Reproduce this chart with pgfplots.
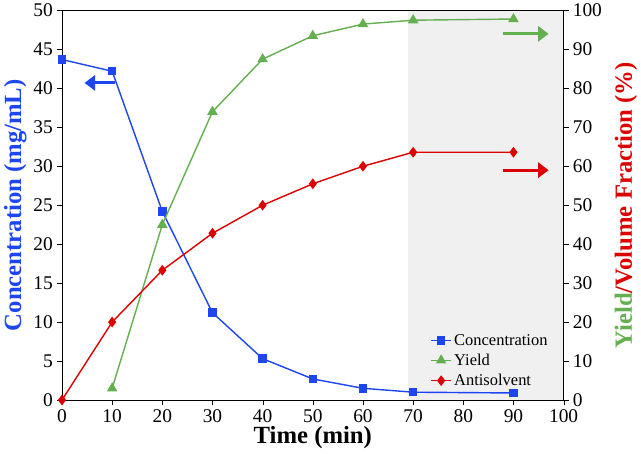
\documentclass[border=0pt]{standalone}
\usepackage{pgfplots}
\pgfplotsset{compat=1.18}
\usepackage{fontspec}
\setmainfont{Liberation Serif}
\usetikzlibrary{arrows.meta}
\definecolor{cblue}{RGB}{30,70,240}
\definecolor{cgreen}{RGB}{100,175,80}
\definecolor{cred}{RGB}{220,0,0}
\begin{document}
\begin{tikzpicture}
\pgfplotsset{every axis/.append style={scale only axis,width=425bp,height=330bp,
 /pgf/number format/assume math mode=true, tick label style={font=\fontsize{16.5}{18}\selectfont},
 label style={font=\fontsize{21}{23}\selectfont\bfseries}, tick align=outside, tick style={black}}}
\begin{axis}[xmin=0,xmax=100,ymin=0,ymax=50,xtick={0,10,...,100},ytick={0,5,...,50},
 axis y line*=left, xlabel={Time (min)}, ylabel={\textcolor{cblue}{Concentration (mg/mL)}},
 xlabel style={yshift=3pt}, ylabel style={yshift=-1pt}, xtick pos=bottom]
\fill[gray!12] (axis cs:69,0) rectangle (axis cs:100,50);
\addplot[cblue,line width=1.2pt,mark=square*,mark size=3pt] coordinates {(0,43.7)(10,42.2)(20,24.2)(30,11.2)(40,5.3)(50,2.7)(60,1.5)(70,1.0)(90,0.9)};
\draw[cblue,line width=2.5pt,-{Triangle[length=9pt,width=13pt]}] (axis cs:10.5,40.7) -- (axis cs:4.5,40.7);
\end{axis}
\begin{axis}[xmin=0,xmax=100,ymin=0,ymax=100,ytick={0,10,...,100},axis y line*=right,
 xtick=\empty, axis x line*=top,
 ylabel={\textcolor{cgreen}{Yield}\textcolor{cred}{/Volume Fraction (\%)}}, ylabel style={yshift=-4pt},
 legend style={at={(0.98,0.02)},anchor=south east,draw=none,fill=none,font=\fontsize{14}{16}\selectfont,row sep=2pt},
 legend cell align=left]
\addlegendimage{cblue,line width=1.2pt,mark=square*,mark size=3pt}
\addlegendentry{Concentration}
\addplot[cgreen,line width=1.2pt,mark=triangle*,mark size=4pt] coordinates {(10,3)(20,45)(30,74)(40,87.5)(50,93.5)(60,96.5)(70,97.5)(90,97.8)};
\addlegendentry{Yield}
\addplot[cred,line width=1.2pt,mark=diamond*,mark size=3.6pt] coordinates {(0,0)(10,20)(20,33.3)(30,42.8)(40,50)(50,55.5)(60,60)(70,63.6)(90,63.6)};
\addlegendentry{Antisolvent}
\draw[cgreen,line width=2.5pt,-{Triangle[length=9pt,width=13pt]}] (axis cs:88,94) -- (axis cs:97,94);
\draw[cred,line width=2.5pt,-{Triangle[length=9pt,width=13pt]}] (axis cs:88,59) -- (axis cs:97,59);
\end{axis}
\end{tikzpicture}
\end{document}
